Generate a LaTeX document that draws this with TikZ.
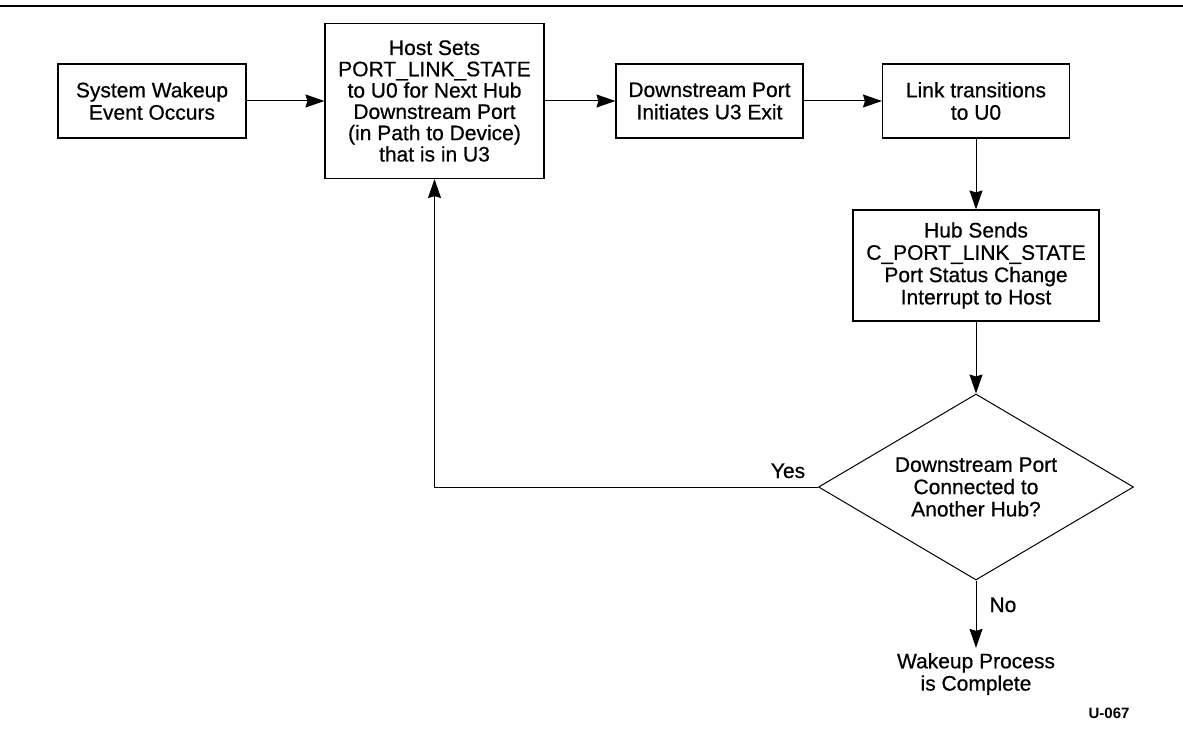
\documentclass[tikz,border=0pt]{standalone}
\usepackage{fontspec}
\setmainfont{Liberation Sans}
\newfontfamily\flowfont{Liberation Sans}[FakeBold=0.6]
\usetikzlibrary{shapes.geometric,arrows.meta}

\begin{document}
\begin{tikzpicture}[x=1pt, y=-1pt,
    box/.style={draw, line width=1.1pt, align=center, inner sep=0pt, minimum height=74pt, font=\flowfont\fontsize{21}{22.3}\selectfont},
    decision/.style={draw, diamond, line width=1pt, aspect=1.69, inner sep=0pt, minimum width=315pt, minimum height=186pt, align=center, font=\flowfont\fontsize{21}{22.3}\selectfont},
    flow/.style={line width=1pt, -{Stealth[length=19pt, width=13pt, inset=2pt]}},
    lbl/.style={font=\flowfont\fontsize{21}{22.3}\selectfont}]
    \useasboundingbox (0,0) rectangle (1183,738);
    % 顶部横线
    \draw[line width=2.5pt] (0,6) -- (1183,6);

    % 第一行
    \node[box, minimum width=188pt] (wake) at (152,101) {System Wakeup\\Event Occurs};
    \node[box, minimum width=219pt, minimum height=155pt, font=\flowfont\fontsize{21}{21.3}\selectfont] (hostset) at (434.5,101)
        {Host Sets\\PORT\_LINK\_STATE\\to U0 for Next Hub\\Downstream Port\\(in Path to Device)\\that is in U3};
    \node[box, minimum width=187pt] (initexit) at (709.5,101) {Downstream Port\\Initiates U3 Exit};
    \node[box, minimum width=187pt] (linkzero) at (976,101) {Link transitions\\to U0};

    % 右侧一列
    \node[box, minimum width=246pt, minimum height=111pt] (hubsend) at (976,265.5)
        {Hub Sends\\C\_PORT\_LINK\_STATE\\Port Status Change\\Interrupt to Host};
    \node[decision] (another) at (976,487) {Downstream Port\\Connected to\\Another Hub?};
    \node[lbl, align=center, inner sep=5pt] (done) at (976,674) {Wakeup Process\\is Complete};

    % 连线
    \draw[flow] (wake) -- (hostset);
    \draw[flow] (hostset) -- (initexit);
    \draw[flow] (initexit) -- (linkzero);
    \draw[flow] (linkzero) -- (hubsend);
    \draw[flow] (hubsend) -- (another);
    \draw[flow] (another.west) -| (hostset.south);
    \draw[flow] (another.south) -- (done.north);

    % 标注
    \node[lbl, anchor=base] (yes) at (788,478) {Yes};
    \node[lbl, anchor=base west] (no) at (986,612) {No};
    \node[font=\fontsize{15}{18}\selectfont\bfseries, anchor=base east] (figid) at (1133,718) {U-067};
\end{tikzpicture}
\end{document}
